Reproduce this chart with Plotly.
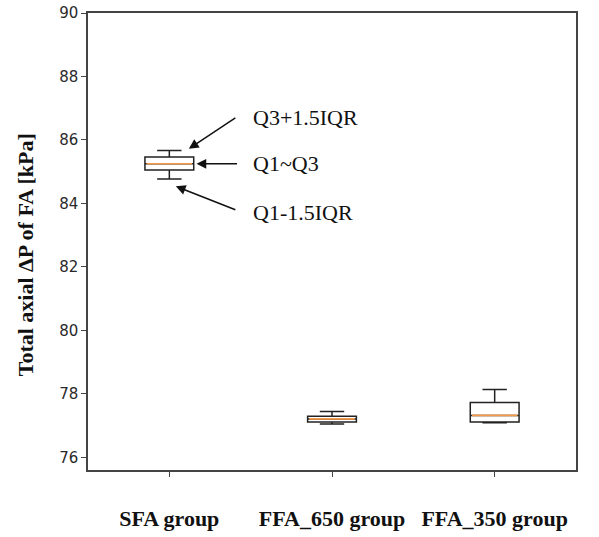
import plotly.graph_objects as go

# ---- data ----
categories = ["SFA group", "FFA_650 group", "FFA_350 group"]
lower_fence = [84.77, 77.05, 77.09]
q1 = [85.05, 77.11, 77.11]
median = [85.25, 77.21, 77.32]
q3 = [85.46, 77.29, 77.73]
upper_fence = [85.67, 77.44, 78.14]
y_ticks = [76, 78, 80, 82, 84, 86, 88, 90]

positions = list(range(len(categories)))
box_w = 0.3

fig = go.Figure()
fig.add_trace(go.Box(
    x=positions, q1=q1, median=median, q3=q3,
    lowerfence=lower_fence, upperfence=upper_fence,
    width=box_w, whiskerwidth=0.5,
    line=dict(color="#222222", width=1.5),
    fillcolor="white", boxpoints=False, showlegend=False, hoverinfo="skip",
))

# orange median lines over the boxes
for p, m in zip(positions, median):
    fig.add_trace(go.Scatter(
        x=[p - box_w / 2 + 0.01, p + box_w / 2 - 0.01], y=[m, m], mode="lines",
        line=dict(color="#f29a48", width=1.6), showlegend=False, hoverinfo="skip",
    ))

serif = "Liberation Serif, Times New Roman, serif"

fig.update_layout(
    width=599, height=537,
    margin=dict(l=88, r=23, t=13, b=67, autoexpand=False),
    paper_bgcolor="white", plot_bgcolor="white",
    xaxis=dict(
        range=[-0.5, 2.5], tickvals=positions, ticktext=categories, automargin=False,
        showline=True, mirror=True, linecolor="#444444", linewidth=1.5,
        ticks="outside", ticklen=5, tickcolor="#444444", showgrid=False, zeroline=False,
        tickfont=dict(family=serif, size=22, color="#111111", weight="bold"),
        ticklabelstandoff=23,
    ),
    yaxis=dict(
        range=[75.6, 90], tickvals=y_ticks, automargin=False,
        showline=True, mirror=True, linecolor="#444444", linewidth=1.5,
        ticks="outside", ticklen=5, tickcolor="#444444", showgrid=False, zeroline=False,
        tickfont=dict(family="DejaVu Sans", size=15, color="#2a2a2a"),
        ticklabeloverflow="allow",
    ),
    annotations=[
        dict(text="<b>Total axial ΔP of FA [kPa]</b>", xref="paper", yref="paper",
             x=-0.129, y=0.47, textangle=-90, showarrow=False,
             font=dict(family=serif, size=22, color="#111111"),
             xanchor="center", yanchor="middle"),
        # arrows
        dict(x=0.12, y=85.72, xref="x", yref="y", ax=48, ay=-32, text="",
             showarrow=True, arrowhead=2, arrowsize=1.3, arrowwidth=1.5, arrowcolor="#111111"),
        dict(x=0.167, y=85.25, xref="x", yref="y", ax=42, ay=0, text="",
             showarrow=True, arrowhead=2, arrowsize=1.3, arrowwidth=1.5, arrowcolor="#111111"),
        dict(x=0.04, y=84.54, xref="x", yref="y", ax=61, ay=24, text="",
             showarrow=True, arrowhead=2, arrowsize=1.3, arrowwidth=1.5, arrowcolor="#111111"),
        # labels
        dict(x=0.5, y=86.71, xref="x", yref="y", text="Q3+1.5IQR", showarrow=False,
             xanchor="left", yanchor="middle", font=dict(family=serif, size=22, color="#111111")),
        dict(x=0.5, y=85.27, xref="x", yref="y", text="Q1~Q3", showarrow=False,
             xanchor="left", yanchor="middle", font=dict(family=serif, size=22, color="#111111")),
        dict(x=0.5, y=83.72, xref="x", yref="y", text="Q1-1.5IQR", showarrow=False,
             xanchor="left", yanchor="middle", font=dict(family=serif, size=22, color="#111111")),
    ],
)

fig.write_html("out.html", config={"displayModeBar": False},
               post_script="document.body.style.margin='0px';")
